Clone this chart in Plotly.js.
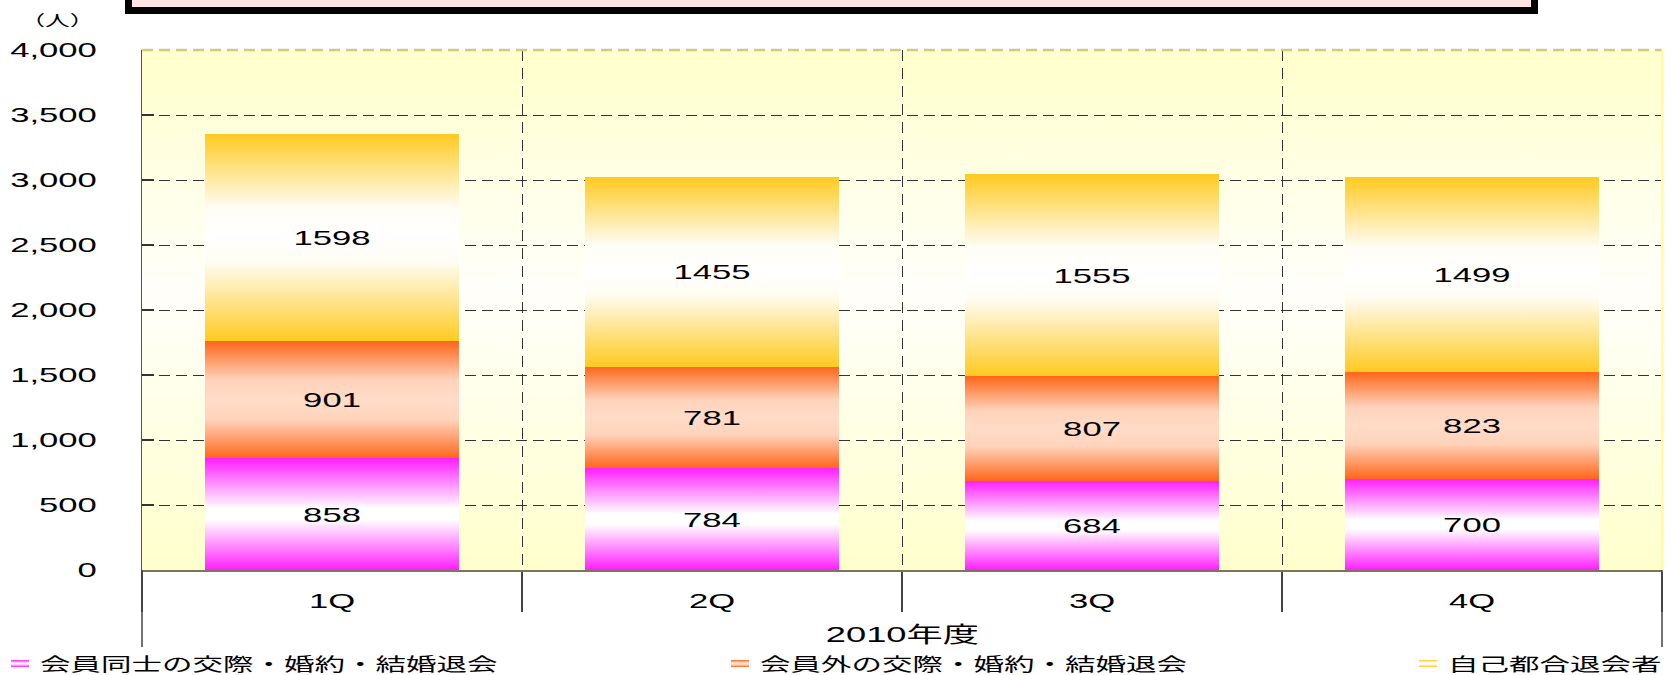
<!DOCTYPE html>
<html>
<head>
<meta charset="utf-8">
<script src="https://cdn.plot.ly/plotly-3.0.1.min.js"></script>
<style>
  html, body { margin: 0; padding: 0; background: #ffffff; }
  #chart { width: 1677px; height: 675px; }
</style>
</head>
<body>
<div id="chart"></div>
<script>
// ---- data ----
const categories = ['1Q', '2Q', '3Q', '4Q'];
const seriesNames = ['会員同士の交際・婚約・結婚退会', '会員外の交際・婚約・結婚退会', '自己都合退会者'];
const memberMarriage = [858, 784, 684, 700];
const outsideMarriage = [901, 781, 807, 823];
const voluntaryLeave = [1598, 1455, 1555, 1499];
const xGroupLabel = '2010年度';
const yUnitLabel = '（人）';

// ---- style ----
const FONT = "'Liberation Sans', Arial, 'Noto Sans CJK JP', sans-serif";
const TEXT_STRETCH = 1.65;
const W = 1677, H = 675;
const M = { l: 142, r: 15, t: 50, b: 105 };
const plotH = H - M.t - M.b;
const plotW = W - M.l - M.r;
const pyPix = px => (H - M.b - px) / plotH;      // pixel row -> paper y
const pxPix = px => (px - M.l) / plotW;          // pixel col -> paper x

const placeholder = ['#ff00fe', '#ff6619', '#ffca20'];
const gradients = [
  [[0, '#ff1fff'], [0.45, '#ffffff'], [0.55, '#ffffff'], [1, '#ff1fff']],
  [[0, '#ff661a'], [0.33, '#ffd3bb'], [0.5, '#ffdcc8'], [0.67, '#ffd3bb'], [1, '#ff661a']],
  [[0, '#ffca20'], [0.36, '#fffdf6'], [0.5, '#ffffff'], [0.62, '#fffcf2'], [1, '#ffca20']]
];
const bgGradient = [[0, '#ffffcc'], [0.45, '#fffffa'], [0.55, '#fffff4'], [1, '#ffffcc']];

const seriesValues = [memberMarriage, outsideMarriage, voluntaryLeave];
const legendIds = ['legend', 'legend2', 'legend3'];

const traces = seriesValues.map((vals, i) => ({
  type: 'bar',
  name: seriesNames[i],
  x: categories,
  y: vals,
  text: vals.map(v => String(v)),
  textposition: 'inside',
  insidetextanchor: 'middle',
  textangle: 0,
  constraintext: 'none',
  textfont: { family: FONT, size: 21, color: '#000000' },
  marker: { color: placeholder[i], line: { width: 0 } },
  legend: legendIds[i],
  hoverinfo: 'skip'
}));

const legendBase = {
  xref: 'container', yref: 'container',
  xanchor: 'left', yanchor: 'middle',
  y: (H - 664) / H,
  orientation: 'h',
  bgcolor: 'rgba(0,0,0,0)',
  borderwidth: 0,
  font: { family: FONT, size: 18.5, color: '#000000' }
};

const layout = {
  width: W, height: H,
  margin: M,
  paper_bgcolor: '#ffffff',
  plot_bgcolor: '#fffffd',
  barmode: 'stack',
  bargap: 0.332,
  font: { family: FONT, color: '#000000' },
  showlegend: true,
  legend: Object.assign({}, legendBase, { x: 0 }),
  legend2: Object.assign({}, legendBase, { x: 720 / W }),
  legend3: Object.assign({}, legendBase, { x: 1408 / W }),
  xaxis: {
    type: 'category',
    categoryorder: 'array',
    categoryarray: categories,
    range: [-0.5, 3.5],
    tickson: 'boundaries',
    ticks: 'outside',
    ticklen: 40,
    tickwidth: 1.5,
    tickcolor: '#444444',
    ticklabelstandoff: 11,
    tickfont: { family: FONT, size: 21, color: '#000000' },
    showgrid: true,
    gridcolor: '#333333',
    gridwidth: 1,
    griddash: '11px,7px',
    showline: true,
    linecolor: '#77775a',
    linewidth: 2,
    zeroline: false,
    fixedrange: true
  },
  yaxis: {
    range: [0, 4000],
    tick0: 0,
    dtick: 500,
    tickformat: ',d',
    ticks: 'inside',
    ticklen: 12,
    tickwidth: 1.5,
    tickcolor: '#333333',
    ticklabelstandoff: 40,
    tickfont: { family: FONT, size: 21, color: '#000000' },
    showgrid: true,
    gridcolor: '#333333',
    gridwidth: 1,
    griddash: '11px,6px',
    showline: true,
    linecolor: '#555540',
    linewidth: 1,
    zeroline: false,
    fixedrange: true
  },
  shapes: [
    // title frame at the top (cut by the page edge)
    { type: 'rect', xref: 'paper', yref: 'paper',
      x0: pxPix(128.5), x1: pxPix(1534.5), y0: pyPix(10.5), y1: pyPix(-40),
      line: { color: '#000000', width: 7 }, fillcolor: '#ffe4e4', layer: 'above' },
    // lighter top edge of plot area
    { type: 'line', xref: 'paper', yref: 'paper', x0: 0, x1: 1, y0: 1, y1: 1,
      line: { color: '#cccc88', width: 2.5, dash: '11px,6px' } },
    // right edge of plot area
    { type: 'line', xref: 'paper', yref: 'paper', x0: 1, x1: 1, y0: 0, y1: 1,
      line: { color: '#ffff99', width: 2 } },
    // outer category frame lines
    { type: 'line', xref: 'paper', yref: 'paper', x0: 0, x1: 0, y0: 0, y1: pyPix(647),
      line: { color: '#444444', width: 1.5 } },
    { type: 'line', xref: 'paper', yref: 'paper', x0: 1, x1: 1, y0: 0, y1: pyPix(647),
      line: { color: '#444444', width: 1.5 } }
  ],
  annotations: [
    { text: xGroupLabel, xref: 'paper', yref: 'paper', x: 0.5, y: pyPix(634),
      xanchor: 'center', yanchor: 'middle', showarrow: false,
      font: { family: FONT, size: 22, color: '#000000' } },
    { text: yUnitLabel, xref: 'paper', yref: 'paper', x: pxPix(57), y: pyPix(21),
      xanchor: 'center', yanchor: 'middle', showarrow: false,
      font: { family: FONT, size: 15, color: '#000000' } }
  ]
};

function addGradient(defs, id, stops) {
  const NS = 'http://www.w3.org/2000/svg';
  const g = document.createElementNS(NS, 'linearGradient');
  g.setAttribute('id', id);
  g.setAttribute('x1', '0'); g.setAttribute('y1', '0');
  g.setAttribute('x2', '0'); g.setAttribute('y2', '1');
  stops.forEach(([o, c]) => {
    const s = document.createElementNS(NS, 'stop');
    s.setAttribute('offset', o);
    s.setAttribute('stop-color', c);
    g.appendChild(s);
  });
  defs.appendChild(g);
}

function toRgb(hex) {
  const n = parseInt(hex.slice(1), 16);
  return 'rgb(' + ((n >> 16) & 255) + ', ' + ((n >> 8) & 255) + ', ' + (n & 255) + ')';
}

function decorate(gd) {
  const NS = 'http://www.w3.org/2000/svg';
  const svg = gd.querySelector('svg.main-svg');
  let defs = svg.querySelector('defs');
  if (!defs) { defs = document.createElementNS(NS, 'defs'); svg.insertBefore(defs, svg.firstChild); }
  const map = {};
  gradients.forEach((st, i) => { addGradient(defs, 'seriesGrad' + i, st); map[toRgb(placeholder[i])] = 'url(#seriesGrad' + i + ')'; });
  addGradient(defs, 'plotBgGrad', bgGradient);

  gd.querySelectorAll('path').forEach(p => {
    const f = p.style.fill;
    if (map[f]) p.style.fill = map[f];
  });
  gd.querySelectorAll('.legendpoints path').forEach(p => {
    p.setAttribute('d', 'M9,3.5H-9V-3.5H9Z');
  });
  gd.querySelectorAll('rect.bg').forEach(r => { r.style.fill = 'url(#plotBgGrad)'; });

  // legends must not clip their (stretched) text
  gd.querySelectorAll('.scrollbox, .legend, [class^="legend"]').forEach(e => e.removeAttribute('clip-path'));

  // the source chart's lettering is horizontally stretched
  gd.querySelectorAll('text').forEach(t => {
    const x = parseFloat(t.getAttribute('x')) || 0;
    const tr = t.getAttribute('transform') || '';
    t.setAttribute('transform', (tr + ' translate(' + x + ',0) scale(' + TEXT_STRETCH + ',1) translate(' + (-x) + ',0)').trim());
  });
}

Plotly.newPlot('chart', traces, layout, { staticPlot: true, displayModeBar: false, responsive: false })
  .then(gd => decorate(gd));
</script>
</body>
</html>
